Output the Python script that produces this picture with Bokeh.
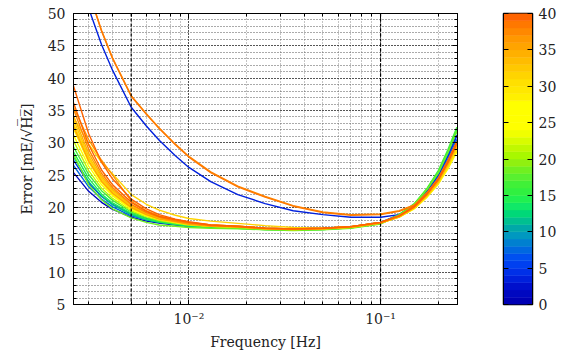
from bokeh.plotting import figure
from bokeh.layouts import row
from bokeh.models import (FixedTicker, LogTicker, Span, CustomJSTickFormatter, Range1d,
                          LinearAxis, LogAxis)
from bokeh.embed import file_html
from bokeh.resources import INLINE

# ---------------- data ----------------
freq = [0.0025, 0.003, 0.0035, 0.004, 0.005, 0.006, 0.007, 0.0085, 0.01, 0.013, 0.018,
        0.025, 0.035, 0.05, 0.07, 0.1, 0.125, 0.15, 0.175, 0.2, 0.225, 0.25]

c01 = [25.4, 22.5, 20.8, 19.7, 18.5, 17.9, 17.6, 17.3, 17.1, 17.0, 16.9, 16.7, 16.6, 16.7, 16.95, 17.6, 18.8, 20.3, 22.5, 25.0, 28.0, 31.1]
c03 = [58.0, 50.8, 45.2, 41.2, 35.5, 32.6, 30.4, 28.0, 26.2, 24.0, 22.0, 20.6, 19.5, 18.9, 18.5, 18.5, 18.9, 20.2, 22.3, 24.6, 27.5, 30.5]
c04 = [27.3, 23.8, 21.7, 20.5, 19.0, 18.3, 17.9, 17.5, 17.3, 17.1, 17.0, 16.8, 16.7, 16.8, 17.05, 17.7, 18.9, 20.4, 22.6, 25.1, 28.1, 31.2]
c07 = [26.5, 23.2, 21.3, 20.1, 18.7, 18.1, 17.7, 17.4, 17.2, 17.0, 16.9, 16.7, 16.6, 16.7, 16.95, 17.6, 18.7, 20.2, 22.3, 24.6, 27.5, 30.5]
c11 = [27.8, 24.0, 21.8, 20.4, 18.9, 18.1, 17.7, 17.4, 17.1, 16.9, 16.8, 16.6, 16.5, 16.6, 16.85, 17.5, 18.8, 20.5, 22.8, 25.3, 28.5, 31.8]
c14 = [28.6, 24.5, 22.1, 20.7, 19.1, 18.2, 17.8, 17.4, 17.2, 16.9, 16.8, 16.6, 16.5, 16.6, 16.85, 17.5, 18.8, 20.5, 22.9, 25.4, 28.7, 32.0]
c16 = [29.4, 25.1, 22.6, 21.1, 19.3, 18.4, 17.9, 17.6, 17.3, 17.1, 16.9, 16.7, 16.6, 16.7, 16.95, 17.6, 18.9, 20.6, 23.0, 25.7, 29.0, 32.4]
c18 = [28.2, 23.5, 21.2, 19.8, 18.4, 17.7, 17.3, 17.1, 16.9, 16.8, 16.7, 16.55, 16.45, 16.55, 16.8, 17.45, 18.8, 20.5, 22.8, 25.3, 28.5, 31.8]
c21 = [30.3, 25.7, 23.0, 21.4, 19.5, 18.6, 18.0, 17.6, 17.3, 17.1, 16.9, 16.7, 16.6, 16.7, 16.95, 17.6, 18.6, 20.1, 22.1, 24.3, 27.0, 29.9]
c25 = [31.2, 26.4, 23.5, 21.8, 19.7, 18.7, 18.2, 17.7, 17.4, 17.1, 17.0, 16.75, 16.65, 16.75, 17.0, 17.65, 18.5, 19.8, 21.6, 23.6, 26.0, 28.6]
c28 = [32.2, 27.0, 23.9, 22.0, 19.9, 18.8, 18.2, 17.7, 17.4, 17.1, 17.0, 16.7, 16.6, 16.7, 16.95, 17.6, 18.5, 19.9, 21.7, 23.7, 26.2, 28.8]
c30 = [33.0, 27.6, 24.4, 22.4, 20.1, 19.0, 18.4, 17.9, 17.6, 17.2, 17.1, 16.8, 16.7, 16.8, 17.05, 17.7, 18.6, 19.9, 21.8, 23.9, 26.5, 29.2]
c31 = [34.0, 29.8, 27.0, 25.2, 22.0, 20.5, 19.6, 18.8, 18.3, 17.9, 17.55, 17.2, 16.9, 16.8, 17.0, 17.6, 18.5, 19.9, 21.8, 23.9, 26.5, 29.2]
c32 = [33.6, 27.9, 24.6, 22.6, 20.2, 19.0, 18.4, 17.9, 17.5, 17.2, 17.0, 16.75, 16.65, 16.75, 17.0, 17.65, 18.7, 20.1, 22.1, 24.3, 27.0, 29.9]
c34 = [34.2, 28.4, 24.9, 22.8, 20.4, 19.2, 18.5, 17.9, 17.6, 17.3, 17.1, 16.8, 16.7, 16.8, 17.05, 17.7, 18.6, 20.0, 21.9, 24.0, 26.7, 29.5]
c35 = [32.6, 27.2, 24.1, 22.2, 20.0, 18.9, 18.2, 17.8, 17.4, 17.1, 17.0, 16.7, 16.6, 16.7, 16.95, 17.6, 18.6, 20.1, 22.1, 24.3, 27.0, 29.9]
c36 = [35.5, 30.5, 27.3, 25.0, 21.0, 19.5, 18.7, 18.1, 17.7, 17.3, 17.0, 16.8, 16.7, 16.8, 17.05, 17.7, 18.7, 20.1, 22.2, 24.4, 27.2, 30.1]
c37 = [35.2, 29.0, 25.3, 23.1, 20.5, 19.2, 18.5, 17.9, 17.6, 17.2, 17.0, 16.75, 16.65, 16.75, 17.0, 17.65, 18.7, 20.1, 22.2, 24.4, 27.2, 30.1]
c37h = [61.2, 53.4, 47.4, 43.1, 37.3, 34.5, 32.3, 29.8, 27.9, 25.5, 23.3, 21.7, 20.3, 19.3, 18.9, 19.0, 19.5, 20.4, 22.3, 24.5, 27.3, 30.2]
c38h = [61.0, 53.3, 47.3, 43.0, 37.2, 34.4, 32.2, 29.7, 27.8, 25.4, 23.2, 21.6, 20.2, 19.2, 18.8, 18.9, 19.4, 20.3, 22.2, 24.4, 27.2, 30.1]
c39 = [36.2, 29.7, 25.8, 23.5, 20.8, 19.4, 18.6, 18.1, 17.7, 17.3, 17.1, 16.8, 16.7, 16.8, 17.05, 17.7, 18.7, 20.1, 22.1, 24.3, 27.0, 29.9]
c40 = [38.8, 31.4, 27.0, 24.4, 21.3, 19.8, 18.9, 18.2, 17.8, 17.3, 17.1, 16.8, 16.7, 16.8, 17.05, 17.7, 18.7, 20.2, 22.2, 24.4, 27.2, 30.1]

curves = [(1, c01), (3, c03), (4, c04), (7, c07), (11, c11), (14, c14), (16, c16), (18, c18),
          (21, c21), (25, c25), (28, c28), (30, c30), (31, c31), (32, c32), (34, c34), (35, c35),
          (36, c36), (37, c37), (37, c37h), (38, c38h), (39, c39), (40, c40)]

colorbar_ticks = [0, 5, 10, 15, 20, 25, 30, 35, 40]
colorbar_levels = list(range(0, 41))
y_ticks = [5, 10, 15, 20, 25, 30, 35, 40, 45, 50]
marker_freqs = [0.005, 0.1]

palette = ["#0000b4", "#0008c0", "#0010cc", "#0020dc", "#0030e8", "#0040f0", "#0050f0", "#0068e0",
           "#0080d0", "#0098c0", "#00a8a8", "#00c090", "#00d878", "#10e868", "#20f050", "#30f040",
           "#40f038", "#58f030", "#70f020", "#90f010", "#a8f800", "#c0f800", "#d8fc00", "#f0ff00",
           "#ffff00", "#ffff00", "#ffff00", "#ffff00", "#fff000", "#ffe800", "#ffe000", "#ffd400",
           "#ffc800", "#ffbc00", "#ffb000", "#ffa400", "#ff9800", "#ff8800", "#ff7800", "#ff6400"]

FONT = "DejaVu Serif"
TXT = "#222222"


def style_axis(ax, labels=True):
    ax.axis_label_text_font = FONT
    ax.axis_label_text_font_style = "normal"
    ax.axis_label_text_font_size = "14px"
    ax.axis_label_text_color = TXT
    ax.major_label_text_font = FONT
    ax.major_label_text_font_size = "14px" if labels else "2px"
    ax.major_label_text_color = TXT if labels else None
    ax.axis_line_color = "black"
    ax.major_tick_in = 5
    ax.major_tick_out = 0
    ax.minor_tick_in = 3
    ax.minor_tick_out = 0
    ax.major_tick_line_color = "black"
    ax.minor_tick_line_color = "black"
    if not labels:
        ax.major_label_standoff = 0


p = figure(width=500, height=352, x_axis_type="log", output_backend="svg", toolbar_location=None,
           x_range=Range1d(0.0025, 0.252), y_range=Range1d(5, 50),
           min_border_left=73, min_border_top=13, min_border_bottom=44, min_border_right=43)
p.outline_line_color = "black"
p.outline_line_width = 1
p.background_fill_color = "white"

for idx, vals in curves:
    p.line(freq, vals, line_color=palette[min(idx, 39)], line_width=1.4)

for fx in marker_freqs:
    p.add_layout(Span(location=fx, dimension="height", line_color="black",
                      line_dash="3 2", line_width=1.2))

sup_fmt = CustomJSTickFormatter(code="""
const sup = {'-':'\u207b','0':'\u2070','1':'\u00b9','2':'\u00b2','3':'\u00b3','4':'\u2074','5':'\u2075','6':'\u2076','7':'\u2077','8':'\u2078','9':'\u2079'};
const e = Math.round(Math.log10(tick));
return '10' + String(e).split('').map(c => sup[c]).join('');
""")
p.xaxis.ticker = LogTicker(num_minor_ticks=10)
p.xaxis.formatter = sup_fmt
p.yaxis.ticker = FixedTicker(ticks=y_ticks, minor_ticks=list(range(5, 51)))
p.xaxis.axis_label = "Frequency [Hz]"
p.yaxis.axis_label = "Error [mE/\u221aH\u0305z\u0305]"
style_axis(p.xaxis[0])
style_axis(p.yaxis[0])
p.xaxis.major_label_standoff = 6
p.yaxis.major_label_standoff = 8
p.xaxis.axis_label_standoff = 4
p.yaxis.axis_label_standoff = 10

ax_r = LinearAxis(ticker=FixedTicker(ticks=y_ticks, minor_ticks=list(range(5, 51))))
style_axis(ax_r, labels=False)
p.add_layout(ax_r, "right")
ax_t = LogAxis(ticker=LogTicker(num_minor_ticks=10))
style_axis(ax_t, labels=False)
p.add_layout(ax_t, "above")

p.xgrid.grid_line_color = "black"
p.xgrid.grid_line_dash = "1 2"
p.xgrid.minor_grid_line_color = "#888888"
p.xgrid.minor_grid_line_dash = "1 2"
p.ygrid.grid_line_color = "black"
p.ygrid.grid_line_dash = "1 2"
p.ygrid.minor_grid_line_color = "#555555"
p.ygrid.minor_grid_line_dash = "1 2"

# ---------------- colour bar as its own small figure ----------------
cbf = figure(width=67, height=352, output_backend="svg", toolbar_location=None,
             x_range=Range1d(0, 1), y_range=Range1d(0, 40), y_axis_location="right",
             min_border_left=3, min_border_right=35, min_border_top=13, min_border_bottom=44)
cbf.quad(left=0, right=1, bottom=colorbar_levels[:-1], top=colorbar_levels[1:],
         fill_color=palette, line_color=palette, line_width=0.5)
cbf.xaxis.visible = False
cbf.grid.visible = False
cbf.outline_line_color = "black"
cbf.outline_line_width = 1.5
cbf.yaxis.ticker = FixedTicker(ticks=colorbar_ticks)
style_axis(cbf.yaxis[0])
cbf.yaxis.major_tick_in = 5
cbf.yaxis.minor_tick_in = 0
cbf.yaxis.major_label_standoff = 6
cb_left = LinearAxis(ticker=FixedTicker(ticks=colorbar_ticks))
style_axis(cb_left, labels=False)
cb_left.minor_tick_in = 0
cbf.add_layout(cb_left, "left")

layout = row(p, cbf)
open("out.html", "w", encoding="utf-8").write(file_html(layout, INLINE))
